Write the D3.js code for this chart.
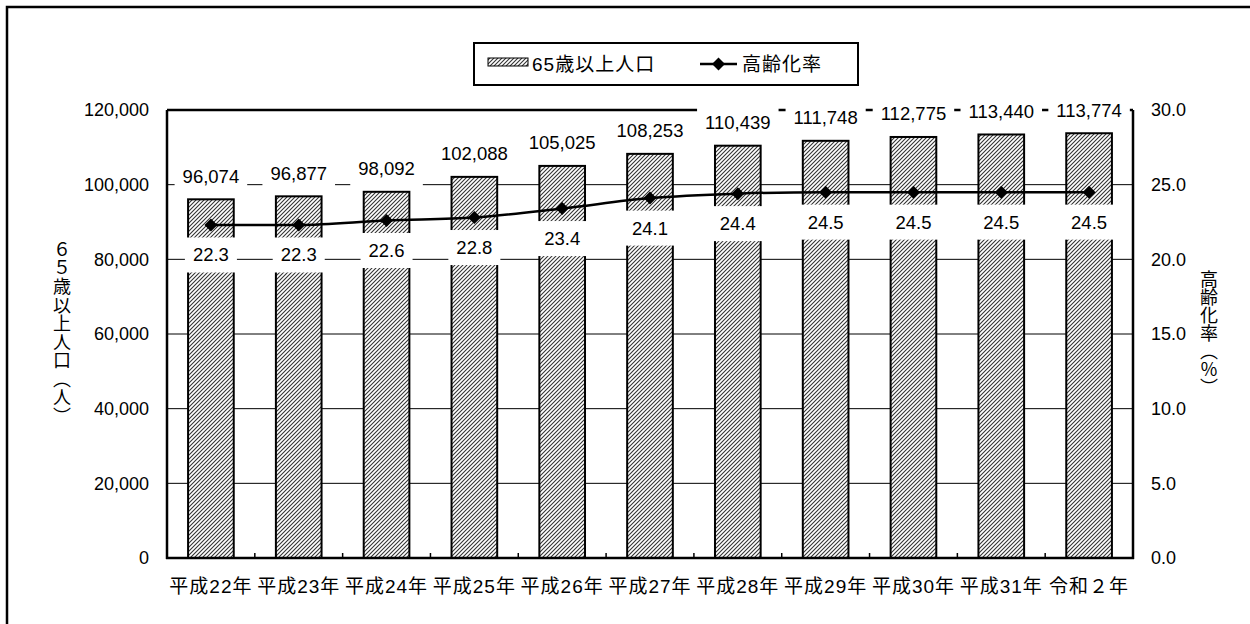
<!DOCTYPE html>
<html><head><meta charset="utf-8">
<script src="https://cdn.jsdelivr.net/npm/d3@7"></script>
<style>
html,body{margin:0;padding:0;background:#fff;}
svg{display:block;}
text{font-family:"Liberation Sans","Noto Sans CJK JP",sans-serif;fill:#000;}
</style></head>
<body>
<svg id="chart" width="1250" height="624"></svg>
<script>
const categories = ["平成22年","平成23年","平成24年","平成25年","平成26年","平成27年","平成28年","平成29年","平成30年","平成31年","令和２年"];
const population = [96074, 96877, 98092, 102088, 105025, 108253, 110439, 111748, 112775, 113440, 113774];
const rate = [22.3, 22.3, 22.6, 22.8, 23.4, 24.1, 24.4, 24.5, 24.5, 24.5, 24.5];
const leftTicks = [0, 20000, 40000, 60000, 80000, 100000, 120000];
const rightTicks = [0, 5, 10, 15, 20, 25, 30];
const seriesNames = ["65歳以上人口", "高齢化率"];
const axisTitles = ["６５歳以上人口（人）", "高齢化率（％）"];

const svg = d3.select("#chart");
const L = 167, R = 1133, T = 110, B = 558;

// outer frame (left and top visible)
svg.append("rect").attr("x", 7).attr("y", 7).attr("width", 1300).attr("height", 800)
  .attr("fill", "none").attr("stroke", "#000").attr("stroke-width", 2.5);

const defs = svg.append("defs");
const pat = defs.append("pattern").attr("id", "hatch").attr("patternUnits", "userSpaceOnUse")
  .attr("width", 4).attr("height", 4);
pat.append("rect").attr("width", 4).attr("height", 4).attr("fill", "#fff");
pat.append("path").attr("d", "M-1,1 L1,-1 M0,4 L4,0 M3,5 L5,3")
  .attr("stroke", "#333").attr("stroke-width", 1.1);

const x = d3.scaleBand().domain(categories).range([L, R]).paddingInner(0.48).paddingOuter(0.24);
const step = x.step();
const yL = d3.scaleLinear().domain([0, 120000]).range([B, T]);
const yR = d3.scaleLinear().domain([0, 30]).range([B, T]);

// gridlines
svg.append("g").selectAll("line").data(leftTicks.filter(d => d > 0)).join("line")
  .attr("x1", L).attr("x2", R).attr("y1", d => yL(d)).attr("y2", d => yL(d))
  .attr("stroke", "#000").attr("stroke-width", d => d === 120000 ? 2.5 : 1);

// bars
svg.append("g").selectAll("rect").data(population).join("rect")
  .attr("x", (d, i) => x(categories[i]))
  .attr("y", d => yL(d))
  .attr("width", x.bandwidth())
  .attr("height", d => B - yL(d))
  .attr("fill", "url(#hatch)").attr("stroke", "#000").attr("stroke-width", 2);

// axes lines
svg.append("line").attr("x1", L).attr("x2", L).attr("y1", T).attr("y2", B + 1).attr("stroke", "#000").attr("stroke-width", 2.5);
svg.append("line").attr("x1", R).attr("x2", R).attr("y1", T).attr("y2", B + 1).attr("stroke", "#000").attr("stroke-width", 2.5);
svg.append("line").attr("x1", L - 1).attr("x2", R + 1).attr("y1", B).attr("y2", B).attr("stroke", "#000").attr("stroke-width", 2.5);

// category boundary ticks
svg.append("g").selectAll("line").data(categories.slice(1)).join("line")
  .attr("x1", (d) => x(d) - (step - x.bandwidth()) / 2).attr("x2", (d) => x(d) - (step - x.bandwidth()) / 2)
  .attr("y1", B).attr("y2", B - 5).attr("stroke", "#000").attr("stroke-width", 1.5);

// left tick labels
svg.append("g").selectAll("text").data(leftTicks).join("text")
  .attr("x", 149).attr("y", d => yL(d)).attr("dy", "0.35em").attr("text-anchor", "end")
  .attr("font-size", 18).text(d => d3.format(",")(d));
// right tick labels
svg.append("g").selectAll("text").data(rightTicks).join("text")
  .attr("x", 1151).attr("y", d => yR(d)).attr("dy", "0.35em").attr("text-anchor", "start")
  .attr("font-size", 18).text(d => d.toFixed(1));

// x labels
svg.append("g").selectAll("text").data(categories).join("text")
  .attr("x", d => x(d) + x.bandwidth() / 2).attr("y", 586).attr("dy", "0.35em")
  .attr("text-anchor", "middle").attr("font-size", 19).attr("letter-spacing", 1).text(d => d);

// line
const cx = i => x(categories[i]) + x.bandwidth() / 2;
const line = d3.line().x((d, i) => cx(i)).y(d => yR(d)).curve(d3.curveMonotoneX);
svg.append("path").datum(rate).attr("d", line).attr("fill", "none").attr("stroke", "#000").attr("stroke-width", 2.5);
const diamond = (px, py, r) => `M${px},${py - r}L${px + r},${py}L${px},${py + r}L${px - r},${py}Z`;
svg.append("g").selectAll("path").data(rate).join("path")
  .attr("d", (d, i) => diamond(cx(i), yR(d), 6.5)).attr("fill", "#000");

// labels with white boxes
function boxedLabel(g, tx, ty, str) {
  const t = g.append("text").attr("x", tx).attr("y", ty).attr("dy", "0.35em")
    .attr("text-anchor", "middle").attr("font-size", 18.5).text(str);
  const bb = t.node().getBBox();
  g.insert("rect", "text").attr("x", tx - bb.width / 2 - 8).attr("y", ty - 17.5)
    .attr("width", bb.width + 16).attr("height", 35).attr("fill", "#fff");
}
population.forEach((d, i) => {
  const g = svg.append("g");
  boxedLabel(g, cx(i), yL(d) - 23, d3.format(",")(d));
});
rate.forEach((d, i) => {
  const g = svg.append("g");
  boxedLabel(g, cx(i), yR(d) + 30, d.toFixed(1));
});

// axis titles
svg.append("text").attr("x", 60).attr("y", 333).attr("text-anchor", "middle")
  .attr("font-size", 18).attr("letter-spacing", 0.5)
  .style("writing-mode", "vertical-rl").style("text-orientation", "upright").text(axisTitles[0]);
svg.append("text").attr("x", 1207).attr("y", 333).attr("text-anchor", "middle")
  .attr("font-size", 18)
  .style("writing-mode", "vertical-rl").style("text-orientation", "upright").text(axisTitles[1]);

// legend
const lg = svg.append("g");
lg.append("rect").attr("x", 474).attr("y", 43).attr("width", 384).attr("height", 42)
  .attr("fill", "#fff").attr("stroke", "#000").attr("stroke-width", 2);
lg.append("rect").attr("x", 488).attr("y", 58).attr("width", 40).attr("height", 8)
  .attr("fill", "url(#hatch)").attr("stroke", "#000").attr("stroke-width", 1);
lg.append("text").attr("x", 532).attr("y", 64).attr("dy", "0.35em").attr("font-size", 19)
  .attr("letter-spacing", 1).text(seriesNames[0]);
lg.append("line").attr("x1", 700).attr("x2", 737).attr("y1", 64).attr("y2", 64).attr("stroke", "#000").attr("stroke-width", 2.5);
lg.append("path").attr("d", diamond(718.5, 64, 6.5)).attr("fill", "#000");
lg.append("text").attr("x", 742).attr("y", 64).attr("dy", "0.35em").attr("font-size", 19)
  .attr("letter-spacing", 1).text(seriesNames[1]);
</script>
</body></html>
